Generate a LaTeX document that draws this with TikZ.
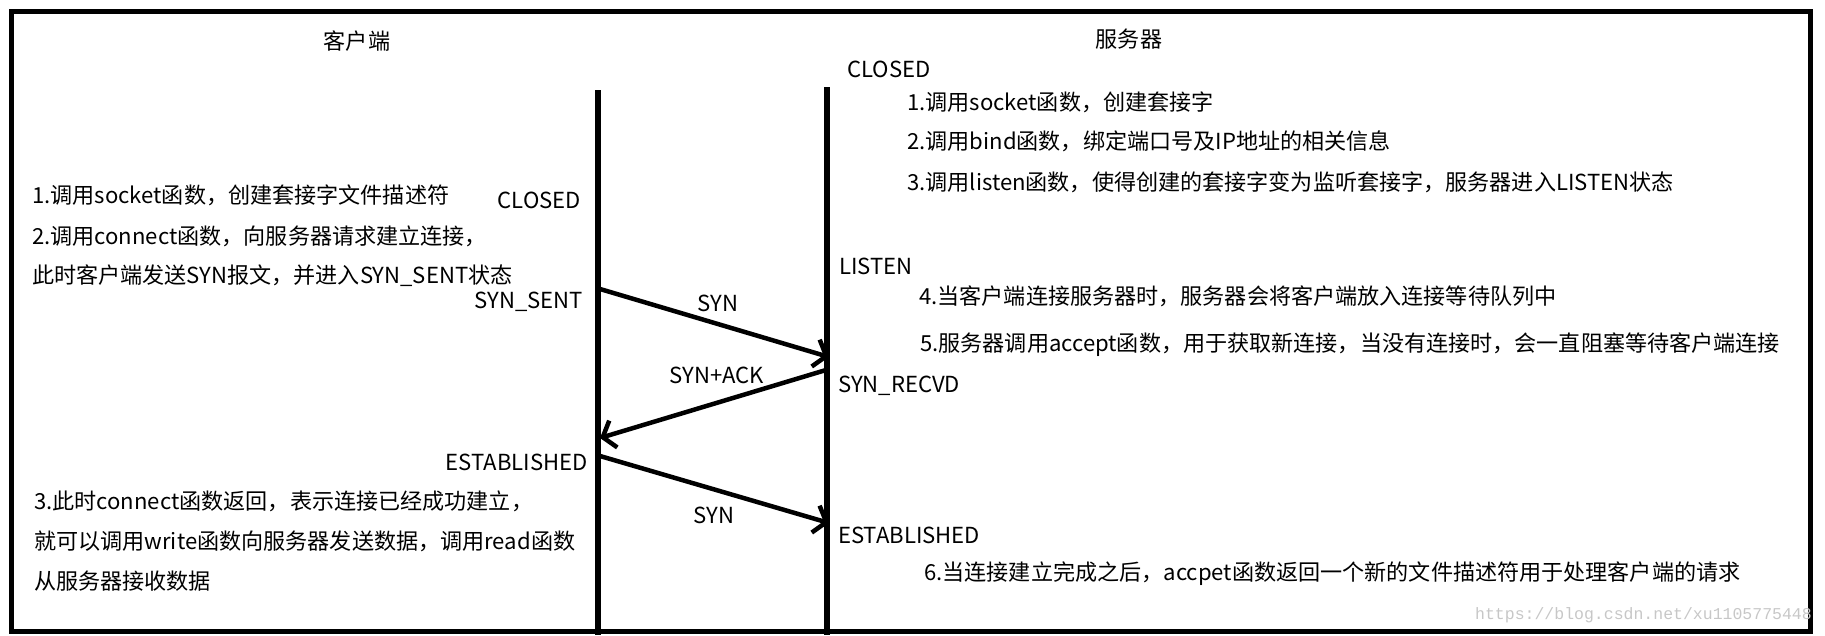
\documentclass[tikz,border=0pt]{standalone}
\usepackage{fontspec}
\setmainfont{Noto Sans CJK SC}
\newfontfamily\wmfont{Liberation Mono}
\usepackage{tikz}
\tikzset{every picture/.style={x=1pt,y=-1pt}}
\usetikzlibrary{arrows.meta}
\tikzset{
  txt/.style={inner sep=0pt, font=\fontsize{22.1}{27}\selectfont},
  lbl/.style={txt, anchor=west},
  rlbl/.style={txt, anchor=east},
  lifeline/.style={line width=5.5pt},
  msg/.style={line width=4.5pt, -{Straight Barb[length=11pt,width=28pt]}},
}

\begin{document}
\begin{tikzpicture}
    % frame
    \useasboundingbox (0,0) rectangle (1825,635);
    \draw[line width=5pt] (11,11) rectangle (1810,631);
    \node[txt] (client) at (357,41) {客户端};
    \node[txt] (server) at (1129,39) {服务器};
    % life lines
    \coordinate (ctop) at (598,90);
    \coordinate (cbot) at (598,635);
    \coordinate (stop) at (827,87);
    \coordinate (sbot) at (827,635);
    \draw[lifeline] (ctop) -- (cbot);
    \draw[lifeline] (stop) -- (sbot);
    % client side
    \node[lbl] (c1) at (32,195) {1.调用socket函数，创建套接字文件描述符};
    \node[lbl] (c2) at (32,236) {2.调用connect函数，向服务器请求建立连接，};
    \node[lbl] (c3) at (32,276) {此时客户端发送SYN报文，并进入SYN\_SENT状态};
    \node[rlbl] (cclosed) at (581,200) {CLOSED};
    \node[rlbl] (csent) at (583,302) {SYN\_SENT};
    \node[rlbl] (cest) at (588,462) {ESTABLISHED};
    \node[lbl] (c4) at (34,501) {3.此时connect函数返回，表示连接已经成功建立，};
    \node[lbl] (c5) at (34,541) {就可以调用write函数向服务器发送数据，调用read函数};
    \node[lbl] (c6) at (34,581) {从服务器接收数据};
    % server side
    \node[lbl] (sclosed) at (847,69) {CLOSED};
    \node[lbl] (s1) at (907,102) {1.调用socket函数，创建套接字};
    \node[lbl] (s2) at (907,141) {2.调用bind函数，绑定端口号及IP地址的相关信息};
    \node[lbl] (s3) at (907,182) {3.调用listen函数，使得创建的套接字变为监听套接字，服务器进入LISTEN状态};
    \node[lbl] (slisten) at (839,266) {LISTEN};
    \node[lbl] (s4) at (919,296) {4.当客户端连接服务器时，服务器会将客户端放入连接等待队列中};
    \node[lbl] (s5) at (920,345) {5.服务器调用accept函数，用于获取新连接，当没有连接时，会一直阻塞等待客户端连接};
    \node[lbl] (srecvd) at (838,386) {SYN\_RECVD};
    \node[lbl] (sest) at (838,535) {ESTABLISHED};
    \node[lbl] (s6) at (924,574) {6.当连接建立完成之后，accpet函数返回一个新的文件描述符用于处理客户端的请求};
    % handshake
    \coordinate (a1) at (600,289);
    \coordinate (b1) at (829,357);
    \coordinate (b2) at (826,370);
    \coordinate (a2) at (600,438);
    \coordinate (a3) at (600,456);
    \coordinate (b3) at (829,523);
    \draw[msg] (a1) -- (b1);
    \draw[msg] (b2) -- (a2);
    \draw[msg] (a3) -- (b3);
    \node[txt] (syn1) at (718,303) {SYN};
    \node[txt] (synack) at (717,375) {SYN+ACK};
    \node[txt] (syn2) at (714,515) {SYN};
    % watermark
    \node[inner sep=0pt, anchor=east, text=black!22, font=\wmfont\fontsize{16.5}{20}\selectfont] (mark) at (1812,615) {https://blog.csdn.net/xu1105775448};
\end{tikzpicture}
\end{document}
